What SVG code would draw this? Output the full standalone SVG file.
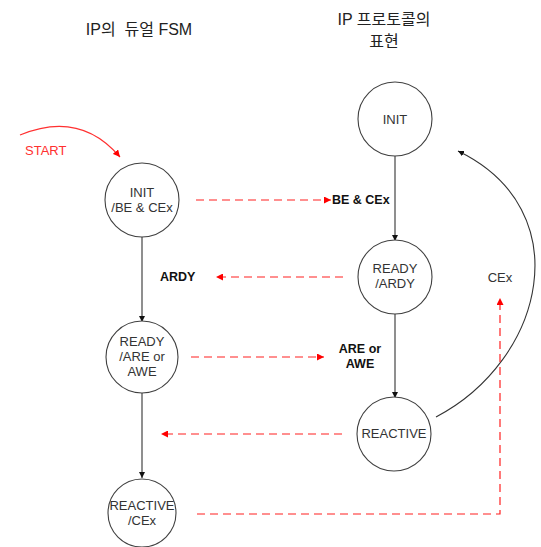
<svg xmlns="http://www.w3.org/2000/svg" width="541" height="547" viewBox="0 0 541 547">
<defs>
<style>
.node circle{fill:#fff;stroke:#404040;stroke-width:1.1}
.nt{font-family:"Liberation Sans",Arial,sans-serif;font-size:13px;fill:#333;text-anchor:middle}
.lbl{font-family:"Liberation Sans",Arial,sans-serif;font-size:12.5px;font-weight:bold;fill:#111}
.title{font-family:"Liberation Sans","Noto Sans CJK KR",sans-serif;font-size:16px;fill:#222;text-anchor:middle;white-space:pre}
.solid{fill:none;stroke:#333;stroke-width:1.1}
.dash{fill:none;stroke:#ff2020;stroke-width:1.2;stroke-dasharray:8,5}
</style>
<marker id="ab" viewBox="0 0 10 10" refX="10" refY="5" markerWidth="6" markerHeight="6" markerUnits="userSpaceOnUse" orient="auto"><path d="M0,0 L10,5 L0,10 z" fill="#111"/></marker>
<marker id="ar" viewBox="0 0 10 10" refX="10" refY="5" markerWidth="7" markerHeight="7" markerUnits="userSpaceOnUse" orient="auto"><path d="M0,0 L10,5 L0,10 z" fill="#ff0000"/></marker>
</defs>
<rect width="541" height="547" fill="#fff"/>

<text class="title" x="139" y="35" xml:space="preserve">IP의  듀얼 FSM</text>
<text class="title" x="384" y="25">IP 프로토콜의</text>
<text class="title" x="384" y="47">표현</text>

<g id="connectors">
<path class="solid" d="M142,236 V322" marker-end="url(#ab)"/>
<path class="solid" d="M142,393 V478" marker-end="url(#ab)"/>
<path class="solid" d="M395,156 V241" marker-end="url(#ab)"/>
<path class="solid" d="M395,314 V398" marker-end="url(#ab)"/>
<path class="solid" d="M436,417 C545,360 580,210 458,151" marker-end="url(#ab)"/>
<path d="M20,135 Q80,110 120,157" fill="none" stroke="#ff3030" stroke-width="1.2" marker-end="url(#ar)"/>
<path class="dash" d="M196,200 H331" marker-end="url(#ar)"/>
<path class="dash" d="M343,277 H216" marker-end="url(#ar)"/>
<path class="dash" d="M191,357 H324" marker-end="url(#ar)"/>
<path class="dash" d="M342,434 H161" marker-end="url(#ar)"/>
<path class="dash" d="M197,514 H500 V298" marker-end="url(#ar)"/>
</g>

<text x="25" y="155" font-family="Liberation Sans,Arial,sans-serif" font-size="13" fill="#ff3030">START</text>
<text class="lbl" x="332" y="204">BE &amp; CEx</text>
<text class="lbl" x="160" y="281">ARDY</text>
<text class="lbl" x="360" y="353" text-anchor="middle">ARE or</text>
<text class="lbl" x="360" y="368" text-anchor="middle">AWE</text>
<text class="nt" x="500" y="282">CEx</text>

<g id="dual-init" class="node"><circle cx="142" cy="200" r="37"/><text class="nt" x="142" y="197">INIT</text><text class="nt" x="142" y="212">/BE &amp; CEx</text></g>
<g id="dual-ready" class="node"><circle cx="142" cy="357" r="36"/><text class="nt" x="142" y="346">READY</text><text class="nt" x="142" y="361">/ARE or</text><text class="nt" x="142" y="376">AWE</text></g>
<g id="dual-reactive" class="node"><circle cx="142" cy="513" r="34"/><text class="nt" x="142" y="510">REACTIVE</text><text class="nt" x="142" y="525">/CEx</text></g>
<g id="ip-init" class="node"><circle cx="395" cy="119" r="37"/><text class="nt" x="395" y="124">INIT</text></g>
<g id="ip-ready" class="node"><circle cx="395" cy="277" r="37"/><text class="nt" x="395" y="273">READY</text><text class="nt" x="395" y="288">/ARDY</text></g>
<g id="ip-reactive" class="node"><circle cx="394" cy="434" r="37"/><text class="nt" x="394" y="438">REACTIVE</text></g>
</svg>
